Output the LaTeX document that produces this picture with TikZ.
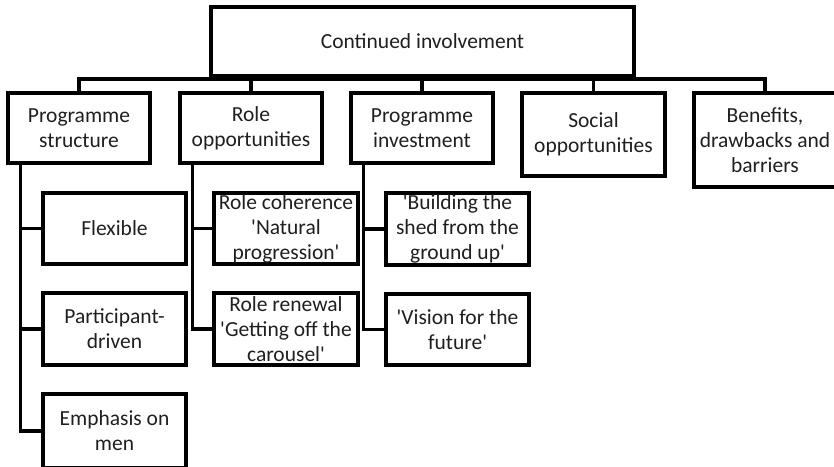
\documentclass[tikz,border=0pt]{standalone}
\usepackage{fontspec}
\setmainfont{Carlito}
\usetikzlibrary{positioning}
\tikzstyle{box} = [draw,line width=3.3pt,rectangle,inner sep=0,align=center,text=black!88,minimum width=142pt,minimum height=70pt,font=\fontsize{21.5}{25}\selectfont]
\tikzstyle{link} = [-,line width=3.3pt]
\def \gap {14pt}
\def \q {\textquotesingle}

\begin{document}
\begin{tikzpicture}[x=1pt,y=-1pt]
      \useasboundingbox (0,0) rectangle (834,466);
      % top level
      \node[box,minimum width=423pt,minimum height=69pt] (top) at (422.5,41.5) {Continued involvement};
      \coordinate (bar) at (0,79);
      % themes
      \node[box] (ps) at (79,128) {Programme\\structure};
      \node[box] (ro) at (251,128) {Role\\opportunities};
      \node[box] (pi) at (422,128) {Programme\\investment};
      \node[box,minimum width=143pt,minimum height=83pt] (so) at (593.5,134.5) {Social\\opportunities};
      \node[box,minimum height=94pt] (bdb) at (765,140) {Benefits,\\drawbacks and\\barriers};
      \draw[link] (ps.north) -- (ps.north |- bar) -- (bdb.north |- bar) -- (bdb.north);
      \draw[link] (ro.north) -- (ro.north |- bar);
      \draw[link] (pi.north) -- (pi.north |- bar);
      \draw[link] (so.north) -- (so.north |- bar);
      % subthemes
      \node[box,minimum width=143pt,minimum height=71pt] (fl) at (114.5,228.5) {Flexible};
      \node[box,minimum width=143pt,minimum height=72pt] (pd) at (114.5,329) {Participant-\\driven};
      \node[box,minimum width=143pt,minimum height=74pt] (em) at (114.5,431) {Emphasis on\\men};
      \node[box,minimum width=144pt,minimum height=71pt] (rc) at (286,228.5) {Role coherence\\\q Natural\\progression\q};
      \node[box,minimum width=144pt,minimum height=72pt] (rr) at (286,329) {Role renewal\\\q Getting off the\\carousel\q};
      \node[box,minimum width=143pt,minimum height=72pt] (bs) at (457.5,229) {\q Building the\\shed from the\\ground up\q};
      \node[box,minimum width=143pt,minimum height=71pt] (vf) at (457.5,329.5) {\q Vision for the\\future\q};
      \draw[link] ([xshift=\gap]ps.south west) |- (fl.west);
      \draw[link] ([xshift=\gap]ps.south west) |- (pd.west);
      \draw[link] ([xshift=\gap]ps.south west) |- (em.west);
      \draw[link] ([xshift=\gap]ro.south west) |- (rc.west);
      \draw[link] ([xshift=\gap]ro.south west) |- (rr.west);
      \draw[link] ([xshift=\gap]pi.south west) |- (bs.west);
      \draw[link] ([xshift=\gap]pi.south west) |- (vf.west);
    \end{tikzpicture}
\end{document}
